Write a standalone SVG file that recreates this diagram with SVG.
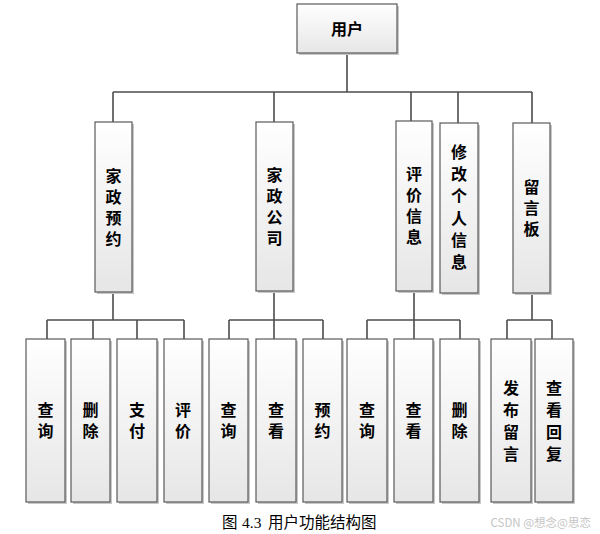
<svg xmlns="http://www.w3.org/2000/svg" width="600" height="534" viewBox="0 0 600 534">
<defs>
<linearGradient id="g" x1="0" y1="0" x2="0" y2="1">
<stop offset="0" stop-color="#ffffff"/>
<stop offset="1" stop-color="#e6e6e6"/>
</linearGradient>
</defs>
<style>
.box{fill:url(#g);stroke:#5a5a5a;stroke-width:1.2}
.sh{fill:#c8c8c8}
.t{font-family:"Noto Sans CJK SC","Noto Sans",sans-serif;font-size:16px;font-weight:bold;fill:#000;text-anchor:middle;dominant-baseline:central}
.v{font-family:"Noto Sans CJK SC","Noto Sans",sans-serif;font-size:16px;font-weight:bold;fill:#000;text-anchor:middle;writing-mode:vertical-rl;letter-spacing:5px}
.v6{letter-spacing:6px}
.ln{stroke:#4d4d4d;stroke-width:1.6;fill:none}
</style>
<rect width="600" height="534" fill="#fff"/>
<g id="connectors">
<path class="ln" d="M347 53V92M113 92H532M113 92V122M274 92V122M411 92V121M458 92V123M532 92V123"/>
<path class="ln" d="M113 292V320M47 320H184M47 320V339M93 320V339M137 320V339M184 320V339"/>
<path class="ln" d="M274 291V339M229 320H323M229 320V339M323 320V339"/>
<path class="ln" d="M414 291V339M367 320H460M367 320V339M460 320V339"/>
<path class="ln" d="M532 293V320M507 320H552M507 320V339M552 320V339"/>
</g>
<g id="n-root"><rect class="sh" x="299" y="6" width="100" height="49"/><rect class="box" x="297" y="4" width="100" height="49"/><text class="t" x="347" y="28">用户</text></g>
<g id="n-jzyy"><rect class="sh" x="97" y="124" width="37" height="170"/><rect class="box" x="95" y="122" width="37" height="170"/><text class="v" x="113.5" y="209.5">家政预约</text></g>
<g id="n-jzgs"><rect class="sh" x="258" y="124" width="37" height="169"/><rect class="box" x="256" y="122" width="37" height="169"/><text class="v" x="274.5" y="209">家政公司</text></g>
<g id="n-pjxx"><rect class="sh" x="398" y="123" width="36" height="170"/><rect class="box" x="396" y="121" width="36" height="170"/><text class="v" x="414" y="208">评价信息</text></g>
<g id="n-xggrxx"><rect class="sh" x="442" y="125" width="38" height="170"/><rect class="box" x="440" y="123" width="38" height="170"/><text class="v v6" x="459" y="210">修改个人信息</text></g>
<g id="n-lyb"><rect class="sh" x="515" y="125" width="37" height="170"/><rect class="box" x="513" y="123" width="37" height="170"/><text class="v" x="531.5" y="210">留言板</text></g>
<g id="n-c1"><rect class="sh" x="28" y="341" width="39" height="163"/><rect class="box" x="26" y="339" width="39" height="163"/><text class="v" x="45.5" y="423">查询</text></g>
<g id="n-c2"><rect class="sh" x="73" y="341" width="39" height="163"/><rect class="box" x="71" y="339" width="39" height="163"/><text class="v" x="90.5" y="423">删除</text></g>
<g id="n-c3"><rect class="sh" x="119" y="341" width="40" height="163"/><rect class="box" x="117" y="339" width="40" height="163"/><text class="v" x="137" y="423">支付</text></g>
<g id="n-c4"><rect class="sh" x="166" y="341" width="38" height="163"/><rect class="box" x="164" y="339" width="38" height="163"/><text class="v" x="183" y="423">评价</text></g>
<g id="n-c5"><rect class="sh" x="211" y="341" width="39" height="163"/><rect class="box" x="209" y="339" width="39" height="163"/><text class="v" x="228.5" y="423">查询</text></g>
<g id="n-c6"><rect class="sh" x="258" y="341" width="40" height="163"/><rect class="box" x="256" y="339" width="40" height="163"/><text class="v" x="276" y="423">查看</text></g>
<g id="n-c7"><rect class="sh" x="305" y="341" width="39" height="163"/><rect class="box" x="303" y="339" width="39" height="163"/><text class="v" x="322.5" y="423">预约</text></g>
<g id="n-c8"><rect class="sh" x="349" y="341" width="40" height="163"/><rect class="box" x="347" y="339" width="40" height="163"/><text class="v" x="367" y="423">查询</text></g>
<g id="n-c9"><rect class="sh" x="396" y="341" width="39" height="163"/><rect class="box" x="394" y="339" width="39" height="163"/><text class="v" x="413.5" y="423">查看</text></g>
<g id="n-c10"><rect class="sh" x="442" y="341" width="39" height="163"/><rect class="box" x="440" y="339" width="39" height="163"/><text class="v" x="459.5" y="423">删除</text></g>
<g id="n-c11"><rect class="sh" x="493" y="341" width="40" height="163"/><rect class="box" x="491" y="339" width="40" height="163"/><text class="v v6" x="511" y="424">发布留言</text></g>
<g id="n-c12"><rect class="sh" x="537" y="341" width="38" height="163"/><rect class="box" x="535" y="339" width="38" height="163"/><text class="v v6" x="554" y="424">查看回复</text></g>
<text y="528" font-family="'Liberation Serif','Noto Sans CJK SC',serif" font-size="15.5" fill="#000"><tspan x="222">图</tspan><tspan x="242">4.3</tspan><tspan x="268">用户功能结构图</tspan></text>
<text x="591" y="527" text-anchor="end" font-family="'Noto Sans CJK SC',sans-serif" font-size="11.5" fill="#c4c4c4">CSDN @想念@思恋</text>
</svg>
